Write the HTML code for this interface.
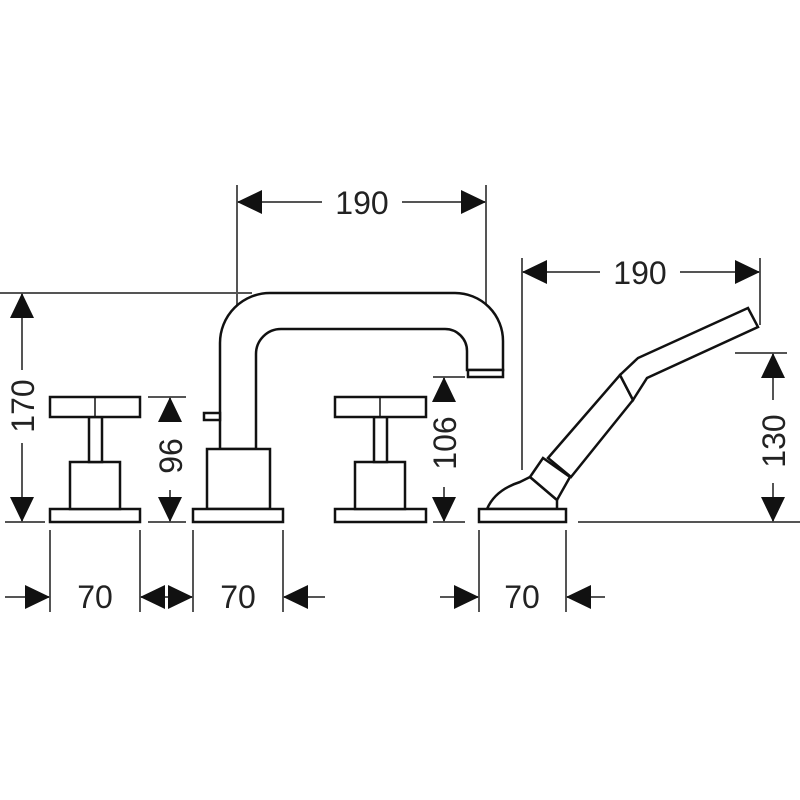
<!DOCTYPE html>
<html><head><meta charset="utf-8"><style>html,body{margin:0;padding:0;background:#fff}svg{display:block}text{font-family:"Liberation Sans",sans-serif;font-size:32px;fill:#222}</style></head>
<body>
<svg width="800" height="800" viewBox="0 0 800 800" xmlns="http://www.w3.org/2000/svg">
<g stroke="#555" stroke-width="2" fill="none">
<!-- extension lines -->
<line x1="237" y1="185" x2="237" y2="305"/>
<line x1="486" y1="185" x2="486" y2="305"/>
<line x1="522" y1="258" x2="522" y2="470"/>
<line x1="760" y1="258" x2="760" y2="325"/>
<line x1="0" y1="293" x2="252" y2="293"/>
<line x1="5" y1="522" x2="45" y2="522"/>
<line x1="148" y1="397" x2="186" y2="397"/>
<line x1="148" y1="522" x2="186" y2="522"/>
<line x1="433" y1="377" x2="465" y2="377"/>
<line x1="433" y1="522" x2="465" y2="522"/>
<line x1="735" y1="353" x2="787" y2="353"/>
<line x1="578" y1="522" x2="800" y2="522"/>
<line x1="50" y1="530" x2="50" y2="612"/>
<line x1="140" y1="530" x2="140" y2="612"/>
<line x1="193" y1="530" x2="193" y2="612"/>
<line x1="283" y1="530" x2="283" y2="612"/>
<line x1="479" y1="530" x2="479" y2="612"/>
<line x1="566" y1="530" x2="566" y2="612"/>
<!-- dim lines -->
<line x1="237" y1="202" x2="322" y2="202"/><line x1="402" y1="202" x2="486" y2="202"/>
<line x1="522" y1="272" x2="600" y2="272"/><line x1="680" y1="272" x2="760" y2="272"/>
<line x1="22" y1="293" x2="22" y2="370"/><line x1="22" y1="443" x2="22" y2="522"/>
<line x1="170" y1="397" x2="170" y2="420"/><line x1="170" y1="490" x2="170" y2="522"/>
<line x1="444" y1="377" x2="444" y2="400"/><line x1="444" y1="487" x2="444" y2="522"/>
<line x1="773" y1="353" x2="773" y2="400"/><line x1="773" y1="483" x2="773" y2="522"/>
<line x1="5" y1="597" x2="50" y2="597"/>
<line x1="140" y1="597" x2="193" y2="597"/>
<line x1="283" y1="597" x2="325" y2="597"/>
<line x1="440" y1="597" x2="479" y2="597"/>
<line x1="566" y1="597" x2="605" y2="597"/>
</g>
<g fill="#111">
<polygon points="237,202 262,190 262,214"/><polygon points="486,202 461,190 461,214"/>
<polygon points="522,272 547,260 547,284"/><polygon points="760,272 735,260 735,284"/>
<polygon points="22,293 10,318 34,318"/><polygon points="22,522 10,497 34,497"/>
<polygon points="170,397 158,422 182,422"/><polygon points="170,522 158,497 182,497"/>
<polygon points="444,377 432,402 456,402"/><polygon points="444,522 432,497 456,497"/>
<polygon points="773,353 761,378 785,378"/><polygon points="773,522 761,497 785,497"/>
<polygon points="50,597 25,585 25,609"/><polygon points="140,597 165,585 165,609"/>
<polygon points="193,597 168,585 168,609"/><polygon points="283,597 308,585 308,609"/>
<polygon points="479,597 454,585 454,609"/><polygon points="566,597 591,585 591,609"/>
</g>
<g>
<text x="362" y="214" text-anchor="middle">190</text>
<text x="640" y="284" text-anchor="middle">190</text>
<text x="95" y="608" text-anchor="middle">70</text>
<text x="238" y="608" text-anchor="middle">70</text>
<text x="522" y="608" text-anchor="middle">70</text>
<text transform="translate(34,406) rotate(-90)" text-anchor="middle">170</text>
<text transform="translate(182,456) rotate(-90)" text-anchor="middle">96</text>
<text transform="translate(456,443) rotate(-90)" text-anchor="middle">106</text>
<text transform="translate(785,441) rotate(-90)" text-anchor="middle">130</text>
</g>
<g stroke="#111" stroke-width="2.5" fill="#fff">
<!-- left handle -->
<rect x="50" y="509" width="90" height="13"/>
<rect x="70" y="462" width="50" height="47"/>
<rect x="89" y="417" width="13" height="45"/>
<rect x="50" y="397" width="90" height="20"/>
<line x1="95" y1="397" x2="95" y2="417" stroke-width="1.5"/>
<!-- center spout -->
<path d="M220,449 V343 A50,50 0 0 1 270,293 H455 A48,48 0 0 1 503,341 V370 H467 V351 A22,22 0 0 0 445,329 H281 A25,25 0 0 0 256,354 V449 Z"/>
<rect x="468" y="370" width="35" height="7"/>
<rect x="204" y="413" width="16" height="7"/>
<rect x="207" y="449" width="63" height="60"/>
<rect x="193" y="509" width="90" height="13"/>
<!-- right handle -->
<rect x="335" y="509" width="91" height="13"/>
<rect x="355" y="462" width="50" height="47"/>
<rect x="374" y="417" width="13" height="45"/>
<rect x="335" y="397" width="91" height="20"/>
<line x1="380" y1="397" x2="380" y2="417" stroke-width="1.5"/>
<!-- hand shower -->
<path d="M487,509 Q495,490 520,482 L530,477 L557,500 V509 Z"/>
<polygon points="548,458 620,375 633,400 571,477"/>
<polygon points="530,477 543,458 570,477 557,500"/>
<polygon points="620,375 638,358 748,308 758,327 647,378 633,400"/>
<rect x="479" y="509" width="87" height="13"/>
</g>
</svg>
</body></html>
